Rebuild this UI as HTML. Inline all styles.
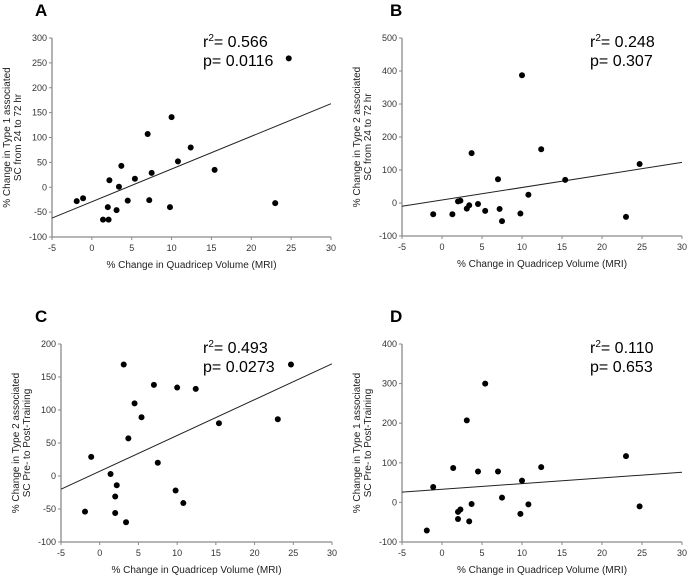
<!DOCTYPE html>
<html><head><meta charset="utf-8"><style>
body{margin:0;background:#fff;}
svg{display:block;font-family:"Liberation Sans",Arial,sans-serif;}
</style></head><body>
<svg id="fig" width="689" height="578" viewBox="0 0 689 578" xmlns="http://www.w3.org/2000/svg"></svg>
<script>
const aX = [-1.9,-1.1,1.4,2.0,2.1,2.2,3.1,3.4,3.7,4.5,5.4,7.0,7.2,7.5,9.8,10.0,10.8,12.4,15.4,23.0,24.7];
const aY = [-28,-22,-65,-40,-65,14,-46,1,43,-27,17,107,-26,29,-40,141,52,80,35,-32,259];
const bX = [-1.1,1.3,2.0,2.3,3.1,3.4,3.7,4.5,5.4,7.0,7.2,7.5,9.8,10.0,10.8,12.4,15.4,23.0,24.7];
const bY = [-34,-34,5,7,-17,-7,151,-3,-24,72,-18,-55,-32,387,25,163,70,-42,118];
const cX = [-1.9,-1.1,1.4,2.0,2.0,2.2,3.1,3.4,3.7,4.5,5.4,7.0,7.5,9.8,10.0,10.8,12.4,15.4,23.0,24.7];
const cY = [-54,29,3,-31,-56,-14,169,-70,57,110,89,138,20,-22,134,-41,132,80,86,169];
const dX = [-1.9,-1.1,1.4,2.0,2.0,2.3,3.1,3.4,3.7,4.5,5.4,7.0,7.5,9.8,10.0,10.8,12.4,23.0,24.7];
const dY = [-71,39,87,-24,-42,-18,207,-48,-4,78,300,78,12,-29,55,-5,89,117,-10];
const xTicks = [-5,0,5,10,15,20,25,30];
const aTicks = [-100,-50,0,50,100,150,200,250,300];
const bTicks = [-100,0,100,200,300,400,500];
const cTicks = [-100,-50,0,50,100,150,200];
const dTicks = [-100,0,100,200,300,400];
const aFit = [-62,168], bFit = [-10,123], cFit = [-20,170], dFit = [26,76];
const aStats = ["0.566","0.0116"], bStats = ["0.248","0.307"], cStats = ["0.493","0.0273"], dStats = ["0.110","0.653"];

const NS = "http://www.w3.org/2000/svg";
const svg = document.getElementById('fig');
function mk(tag, attrs, parent, text){
  const e = document.createElementNS(NS, tag);
  for (const k in attrs) e.setAttribute(k, attrs[k]);
  if (text !== undefined) e.textContent = text;
  (parent||svg).appendChild(e);
  return e;
}
function panel(id, box, xs, ys, yT, fit, stats, letter, lx, ytitle, sx){
  const g = mk('g', {});
  
  
  const [x0,x1,yt,yb] = box;
  const ymin = yT[0], ymax = yT[yT.length-1];
  const X = v => x0 + (v + 5) / 35 * (x1 - x0);
  const Y = v => yb - (v - ymin) / (ymax - ymin) * (yb - yt);
  const ax = mk('line', {x1:x0,y1:yb,x2:x1,y2:yb,stroke:'#8a8a8a','stroke-width':1.3}, g);
  
  
  const ay = mk('line', {x1:x0,y1:yt,x2:x0,y2:yb,stroke:'#8a8a8a','stroke-width':1.3}, g);
  
  
  xTicks.forEach(t => {
    mk('line', {x1:X(t),y1:yb,x2:X(t),y2:yb+3,stroke:'#8a8a8a'}, g);
    const tl = mk('text', {x:X(t),y:yb+14,'font-size':9,'text-anchor':'middle',fill:'#333'}, g, t);
    
    
  });
  yT.forEach(t => {
    mk('line', {x1:x0-3,y1:Y(t),x2:x0,y2:Y(t),stroke:'#8a8a8a'}, g);
    const tl = mk('text', {x:x0-5,y:Y(t)+3,'font-size':9,'text-anchor':'end',fill:'#333'}, g, t);
    
    
  });
  const fl = mk('line', {x1:X(-5),y1:Y(fit[0]),x2:X(30),y2:Y(fit[1]),stroke:'#222','stroke-width':1}, g);
  
  
  xs.forEach((v,i) => {
    const c = mk('circle', {cx:X(v),cy:Y(ys[i]),r:3,fill:'#000'}, g);
    
    
  });
  const L = mk('text', {x:lx,y:box[2]-22,'font-size':17,'font-weight':'bold',fill:'#000'}, g, letter);
  
  
  const r = mk('text', {x:sx,y:yt+9,'font-size':16,fill:'#000'}, g);
  
  
  r.innerHTML = 'r<tspan dy="-6" font-size="10">2</tspan><tspan dy="6">= ' + stats[0] + '</tspan>';
  const p = mk('text', {x:sx,y:yt+28,'font-size':16,fill:'#000'}, g, 'p= ' + stats[1]);
  
  
  const cy = (yt+yb)/2;
  const tx = box[0] - 42;
  const yl = mk('text', {transform:`translate(${tx},${cy}) rotate(-90)`,'font-size':10,'text-anchor':'middle',fill:'#222'}, g);
  
  
  yl.innerHTML = `<tspan x="0" dy="0">${ytitle[0]}</tspan><tspan x="0" dy="11">${ytitle[1]}</tspan>`;
  const xl = mk('text', {x:(x0+x1)/2,y:yb+31,'font-size':10,'text-anchor':'middle',fill:'#222'}, g, '% Change in Quadricep Volume (MRI)');
  
  
}
panel('a',[52,331,38,237],aX,aY,aTicks,aFit,aStats,'A',35,['% Change in Type 1 associated','SC from 24 to 72 hr'],203);
panel('b',[402,682,38,236],bX,bY,bTicks,bFit,bStats,'B',390,['% Change in Type 2 associated','SC from 24 to 72 hr'],590);
panel('c',[61,332,344,542],cX,cY,cTicks,cFit,cStats,'C',35,['% Change in Type 2 associated','SC Pre- to Post-Training'],203);
panel('d',[402,682,344,542],dX,dY,dTicks,dFit,dStats,'D',390,['% Change in Type 1 associated','SC Pre- to Post-Training'],590);
</script>
</body></html>
